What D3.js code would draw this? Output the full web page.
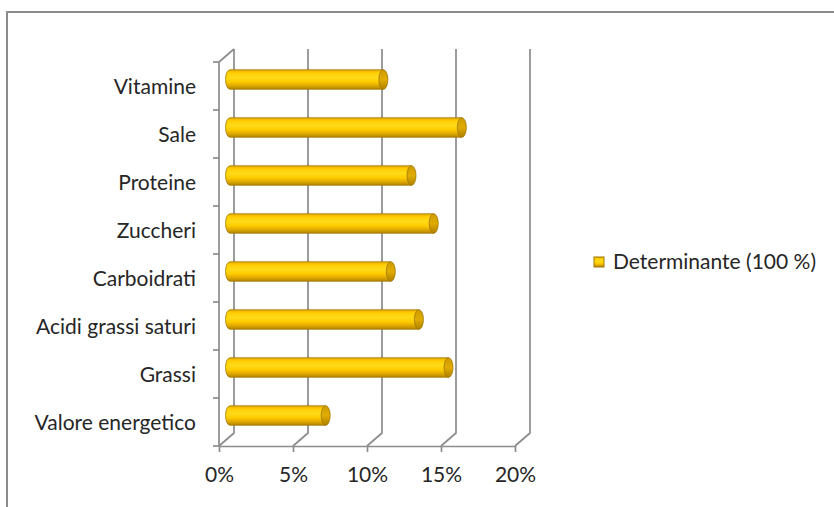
<!DOCTYPE html>
<html>
<head>
<meta charset="utf-8">
<script src="https://cdn.jsdelivr.net/npm/d3@7"></script>
<style>
  body { margin: 0; background: #fff; }
  text { font-family: Lato, "Open Sans", sans-serif; fill: #262626; }
</style>
</head>
<body>
<svg id="chart"></svg>
<script>
// chart data
const categories = ["Valore energetico", "Grassi", "Acidi grassi saturi", "Carboidrati",
                    "Zuccheri", "Proteine", "Sale", "Vitamine"];
const values = [6.7, 15.0, 13.0, 11.1, 14.0, 12.5, 15.9, 10.6];
const xTicks = [0, 5, 10, 15, 20];
const seriesName = "Determinante (100 %)";

// layout
const width = 834, height = 507;
const depth = {dx: 15, dy: -13};
const gridColor = "#8c8c8c";
const fontSize = "21px";

const svg = d3.select("#chart")
    .attr("width", width)
    .attr("height", height);

// outer chart frame
svg.append("rect")
    .attr("x", 7).attr("y", 12)
    .attr("width", 840).attr("height", 520)
    .attr("fill", "none")
    .attr("stroke", gridColor)
    .attr("stroke-width", 2);

const x = d3.scaleLinear().domain([0, 20]).range([219, 515]);
const y = d3.scaleBand().domain(categories).range([446, 62]);
const yTop = y.range()[1], yBot = y.range()[0];

// gradients
const defs = svg.append("defs");
const bodyGrad = defs.append("linearGradient")
    .attr("id", "cyl").attr("x1", 0).attr("y1", 0).attr("x2", 0).attr("y2", 1);
[["0%", "#e0a800"], ["15%", "#ffcc00"], ["38%", "#ffdb1a"], ["62%", "#ffcc00"],
 ["85%", "#d9a300"], ["100%", "#b08000"]].forEach(s =>
    bodyGrad.append("stop").attr("offset", s[0]).attr("stop-color", s[1]));
const capGrad = defs.append("linearGradient")
    .attr("id", "cap").attr("x1", 0).attr("y1", 0).attr("x2", 0).attr("y2", 1);
[["0%", "#d09c00"], ["50%", "#e0ac00"], ["100%", "#b08000"]].forEach(s =>
    capGrad.append("stop").attr("offset", s[0]).attr("stop-color", s[1]));

const grid = svg.append("g")
    .attr("stroke", gridColor)
    .attr("stroke-width", 1.7)
    .attr("fill", "none");

// back wall gridlines + floor diagonals
grid.selectAll("path.vgrid")
    .data(xTicks)
    .enter()
    .append("path")
    .attr("class", "vgrid")
    .attr("d", d => "M" + x(d) + "," + yBot +
        "L" + (x(d) + depth.dx) + "," + (yBot + depth.dy) +
        "L" + (x(d) + depth.dx) + "," + (yTop + depth.dy));

// left wall: top diagonal and front axis line
grid.append("path")
    .attr("d", "M" + x(0) + "," + yTop + "L" + (x(0) + depth.dx) + "," + (yTop + depth.dy));
grid.append("line")
    .attr("x1", x(0)).attr("x2", x(0))
    .attr("y1", yTop).attr("y2", yBot);

// category boundary ticks
const bounds = categories.map(c => y(c)).concat([yBot]);
grid.selectAll("line.ytick")
    .data(bounds)
    .enter()
    .append("line")
    .attr("class", "ytick")
    .attr("x1", x(0) - 6).attr("x2", x(0))
    .attr("y1", d => d).attr("y2", d => d);

// x axis
const xAxis = svg.append("g")
    .attr("transform", "translate(0," + yBot + ")")
    .call(d3.axisBottom(x).tickValues(xTicks).tickSize(6).tickSizeOuter(0)
        .tickPadding(15).tickFormat(d => d + "%"));
xAxis.selectAll("line, path").attr("stroke", gridColor).attr("stroke-width", 1.7);
xAxis.selectAll("text").style("font-size", fontSize).style("font-family", "Lato");

// y axis labels
const yAxis = svg.append("g")
    .attr("transform", "translate(" + x(0) + ",1)")
    .call(d3.axisLeft(y).tickSize(0).tickPadding(23));
yAxis.select(".domain").remove();
yAxis.selectAll("text").style("font-size", fontSize).style("font-family", "Lato");

// cylinders, placed at half depth
const rx = 4.5, barH = 19.5;
const midX = depth.dx / 2 - 1, midY = depth.dy / 2;
const bars = svg.selectAll("g.bar")
    .data(categories.map((c, i) => ({cat: c, value: values[i]})))
    .enter()
    .append("g")
    .attr("class", "bar");

bars.append("path")
    .attr("d", function(d) {
      const x0 = x(0) + midX + rx, x1 = x(d.value) + midX + 1;
      const cy = y(d.cat) + y.bandwidth() / 2 + midY;
      const t = cy - barH / 2, b = cy + barH / 2;
      return "M" + x0 + "," + t + "L" + x1 + "," + t +
          "L" + x1 + "," + b + "L" + x0 + "," + b +
          "A" + rx + "," + (barH / 2) + " 0 0 1 " + x0 + "," + t + "Z";
    })
    .attr("fill", "url(#cyl)")
    .attr("stroke", "#a87c00")
    .attr("stroke-width", 0.8);

bars.append("ellipse")
    .attr("cx", d => x(d.value) + midX + 1)
    .attr("cy", d => y(d.cat) + y.bandwidth() / 2 + midY)
    .attr("rx", rx)
    .attr("ry", barH / 2)
    .attr("fill", "url(#cap)")
    .attr("stroke", "#a07600")
    .attr("stroke-width", 0.8);

// legend
const legend = svg.append("g").attr("transform", "translate(594,257)");
legend.append("rect")
    .attr("width", 10).attr("height", 10)
    .attr("fill", "url(#cyl)")
    .attr("stroke", "#a07600")
    .attr("stroke-width", 1);
legend.append("text")
    .attr("x", 19).attr("y", 5)
    .attr("dy", "0.35em")
    .style("font-size", fontSize)
    .text(seriesName);
</script>
</body>
</html>
